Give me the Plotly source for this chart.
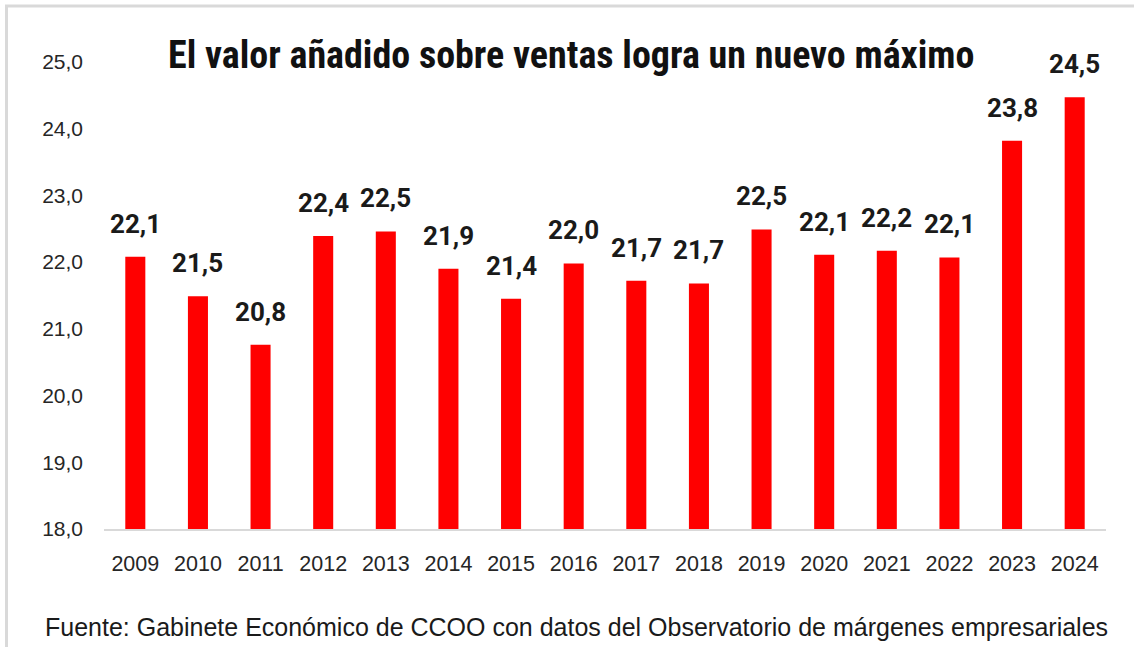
import plotly.graph_objects as go

years = ["2009", "2010", "2011", "2012", "2013", "2014", "2015", "2016",
         "2017", "2018", "2019", "2020", "2021", "2022", "2023", "2024"]
values = [22.08, 21.49, 20.76, 22.39, 22.46, 21.90, 21.45, 21.98,
          21.72, 21.68, 22.49, 22.11, 22.17, 22.07, 23.82, 24.47]
labels = ["22,1", "21,5", "20,8", "22,4", "22,5", "21,9", "21,4", "22,0",
          "21,7", "21,7", "22,5", "22,1", "22,2", "22,1", "23,8", "24,5"]
y_ticks = [18, 19, 20, 21, 22, 23, 24, 25]
title_text = "El valor añadido sobre ventas logra un nuevo máximo"
source_text = "Fuente: Gabinete Económico de CCOO con datos del Observatorio de márgenes empresariales"

W, H = 1134, 647
L, R, T, B = 104, 28, 62, 118
pw, ph = W - L - R, H - T - B

def px_x(x):
    return (x - L) / pw

def px_y(y):
    return (H - B - y) / ph

pos = list(range(len(years)))

fig = go.Figure()
fig.add_trace(go.Bar(
    x=pos, y=values, marker=dict(color="#FF0000", line=dict(width=0)),
    width=0.32, hoverinfo="skip",
))

for p, v, lab in zip(pos, values, labels):
    fig.add_annotation(
        x=p, y=v, text=lab, showarrow=False, yanchor="bottom", yshift=16,
        font=dict(family="Roboto", size=26, color="#1a1a1a", weight="bold"),
    )

fig.add_annotation(
    xref="paper", yref="paper", x=px_x(571), y=px_y(55), text=f"<b>{title_text}</b>",
    showarrow=False, xanchor="center", yanchor="middle",
    font=dict(family="Liberation Sans Narrow, Roboto Condensed, Roboto", size=38, color="#111111"),
)
fig.add_annotation(
    xref="paper", yref="paper", x=px_x(576), y=px_y(627), text=source_text,
    showarrow=False, xanchor="center", yanchor="middle",
    font=dict(family="Liberation Sans", size=25, color="#1a1a1a"),
)

fig.add_shape(
    type="rect", xref="paper", yref="paper",
    x0=px_x(6.5), x1=px_x(1145), y0=px_y(670), y1=px_y(6),
    line=dict(color="#d9d9d9", width=3), fillcolor="rgba(0,0,0,0)", layer="below",
)

fig.update_layout(
    width=W, height=H, autosize=False,
    margin=dict(l=L, r=R, t=T, b=B, pad=0),
    plot_bgcolor="white", paper_bgcolor="white",
    separators=",.",
    showlegend=False,
    xaxis=dict(
        range=[-0.5, len(years) - 0.5],
        tickvals=pos, ticktext=years,
        showgrid=False, showline=True, linecolor="#d9d9d9", linewidth=2,
        zeroline=False, ticks="", ticklabelstandoff=14,
        tickfont=dict(family="Liberation Sans", size=21.5, color="#262626"),
        fixedrange=True,
    ),
    yaxis=dict(
        range=[18, 25], tickvals=y_ticks, tickformat=".1f",
        showgrid=False, showline=False, zeroline=False, ticks="",
        ticklabelstandoff=20,
        tickfont=dict(family="Liberation Sans", size=21, color="#262626"),
        fixedrange=True,
    ),
)

fig.write_html(
    "out.html",
    config={"displayModeBar": False},
    post_script="document.body.style.margin='0';document.body.style.overflow='hidden';",
)
